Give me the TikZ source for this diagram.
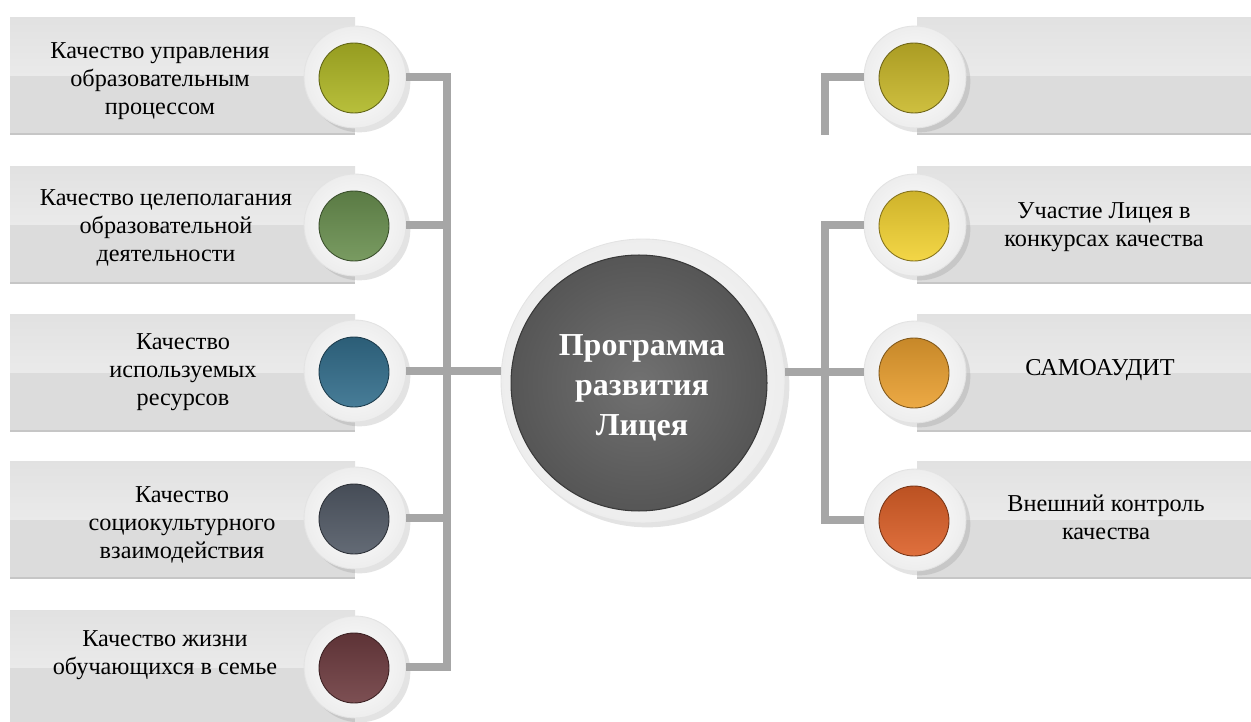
\documentclass[tikz,border=0pt]{standalone}
\usepackage{fontspec}
\setmainfont{Liberation Serif}
\usetikzlibrary{shadows}

\definecolor{linkgray}{HTML}{A6A6A6}
\definecolor{bandtop}{HTML}{EAEAEA}
\definecolor{bandbot}{HTML}{DCDCDC}
\definecolor{bandedge}{HTML}{C6C6C6}
\definecolor{hubdark}{HTML}{565656}
\definecolor{hublight}{HTML}{717171}
\definecolor{cmgmt}{HTML}{B0B826}
\definecolor{cgoal}{HTML}{6A9050}
\definecolor{cres}{HTML}{336E8C}
\definecolor{csoc}{HTML}{525A66}
\definecolor{cfam}{HTML}{6E3C40}
\definecolor{cempty}{HTML}{C9B82A}
\definecolor{ccontest}{HTML}{F2D232}
\definecolor{caudit}{HTML}{EAA030}
\definecolor{cext}{HTML}{DC6028}

\tikzset{
  link/.style={draw=linkgray, line width=4.6pt},
  ring/.style={circle, minimum size=2.04cm, inner sep=0pt,
    shading=radial, inner color=white, outer color=gray!14, draw=gray!22, line width=0.5pt,
    drop shadow={opacity=0.22, shadow xshift=2.5pt, shadow yshift=-2.5pt}},
  dot/.style={circle, minimum size=1.4cm, inner sep=0pt,
    top color=#1!85!black, bottom color=#1!90!white, draw=#1!55!black, line width=0.5pt},
  itemtext/.style={align=center, font=\fontsize{13.8}{15.9}\selectfont},
}

\newcommand{\band}[3]{% x1, top, x2
  \fill[top color=bandtop!92!gray, bottom color=bandtop] (#1,#2) rectangle (#3,#2+58);
  \fill[bandbot] (#1,#2+58) rectangle (#3,#2+117);
  \fill[bandedge] (#1,#2+115) rectangle (#3,#2+117);
}

\begin{document}
\begin{tikzpicture}[x=0.02cm, y=-0.02cm]
	\useasboundingbox (0,0) rectangle (1251,722);

	% boxes
	\foreach \t in {18,167,315,462,610} { \band{10}{\t}{355} }
	\foreach \t in {18,167,315,462} { \band{917}{\t}{1251} }

	% rings on the left
	\foreach \n/\y/\c in {1/77/cmgmt, 2/225/cgoal, 3/371/cres, 4/518/csoc, 5/667/cfam} {
		\node [ring] (l\n) at (355,\y) {};
		\node [dot=\c] (ld\n) at ([shift={(-1,1)}]l\n.center) {};
	}
	% rings on the right
	\foreach \n/\y/\c in {1/77/cempty, 2/225/ccontest, 3/372/caudit, 4/520/cext} {
		\node [ring] (r\n) at (915,\y) {};
		\node [dot=\c] (rd\n) at ([shift={(-1,1)}]r\n.center) {};
	}

	% central hub
	\node [ring, minimum size=5.68cm] (hub) at (643,381) {};
	\node [circle, minimum size=5.12cm, inner sep=0pt, shading=radial,
		inner color=hublight, outer color=hubdark,
		draw=gray!45!black, line width=0.6pt] (hubin) at (639,383) {};
	\node [align=center, text=white, font=\bfseries\fontsize{18.2}{22.6}\selectfont] (hubtext) at (642,388)
		{Программа\\развития\\Лицея};

	% connectors
	\coordinate (lspine) at (447,0);
	\coordinate (rspine) at (825,0);
	\coordinate (rhook) at (825,135);
	\draw[link] (l1.east) -- (l1.east -| lspine) -- (l5.east -| lspine) -- (l5.east);
	\foreach \n in {2,3,4} { \draw[link] (l\n.east) -- (l\n.east -| lspine); }
	\draw[link] (lspine |- l3) -- (hub.west |- l3);
	\draw[link] (r1.west) -| (rhook);
	\draw[link] (r2.west) -- (r2.west -| rspine) -- (r4.west -| rspine) -- (r4.west);
	\draw[link] (hub.east |- r3) -- (r3.west);

	% texts
	\node [itemtext] (t1) at (160,81) {Качество управления\\образовательным\\процессом};
	\node [itemtext] (t2) at (166,228) {Качество целеполагания\\образовательной\\деятельности};
	\node [itemtext] (t3) at (183,372) {Качество\\используемых\\ресурсов};
	\node [itemtext] (t4) at (182,525) {Качество\\социокультурного\\взаимодействия};
	\node [itemtext] (t5) at (165,655) {Качество жизни\\обучающихся в семье};
	\node [itemtext] (u2) at (1104,227) {Участие Лицея в\\конкурсах качества};
	\node [itemtext] (u3) at (1100,370) {САМОАУДИТ};
	\node [itemtext] (u4) at (1106,517) {Внешний контроль\\качества};
\end{tikzpicture}
\end{document}
